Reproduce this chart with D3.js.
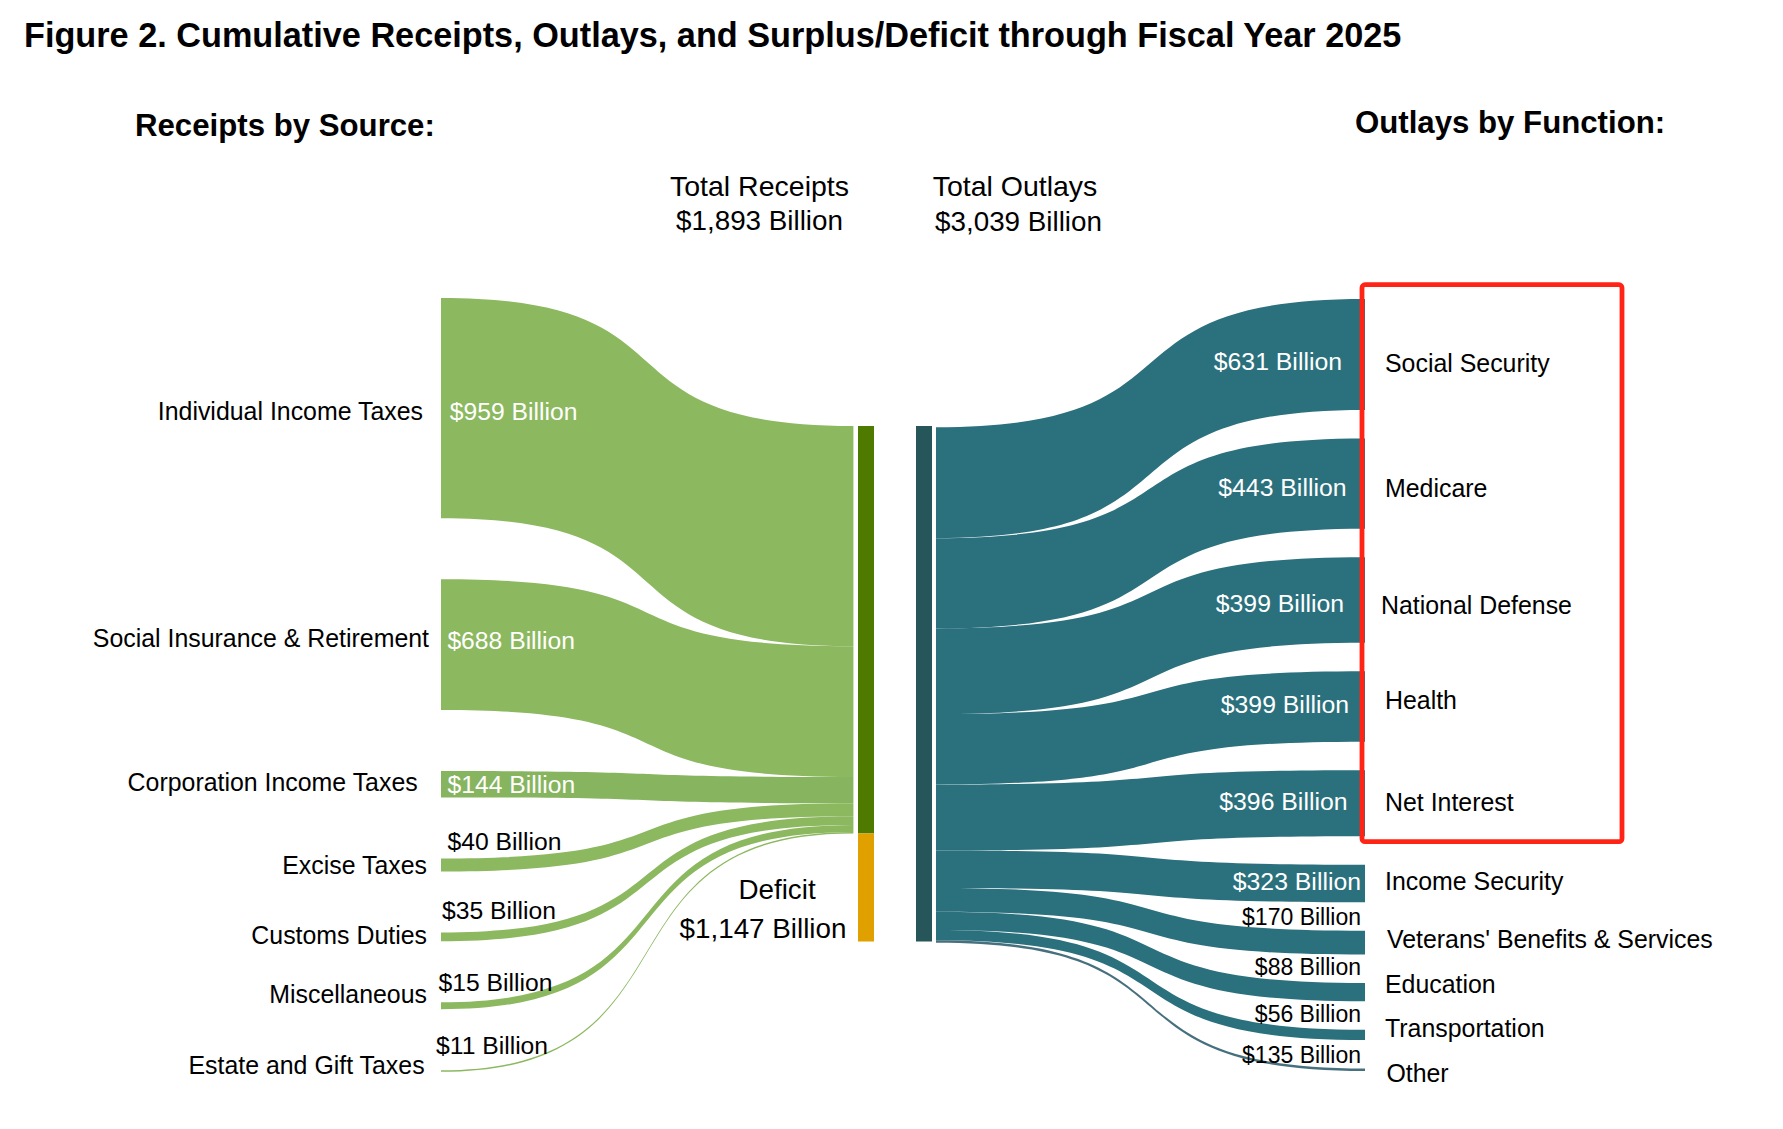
<!DOCTYPE html>
<html>
<head>
<meta charset="utf-8">
<script src="https://cdn.jsdelivr.net/npm/d3@7/dist/d3.min.js"></script>
<style>
html,body{margin:0;padding:0;background:#fff}
svg{display:block}
text{font-family:"Liberation Sans",Arial,sans-serif;fill:#000}
</style>
</head>
<body>
<svg id="chart" width="1783" height="1129" viewBox="0 0 1783 1129"></svg>
<script>
// ---- data ----
const chartTitle = "Figure 2. Cumulative Receipts, Outlays, and Surplus/Deficit through Fiscal Year 2025";
const receiptSources = ["Individual Income Taxes","Social Insurance & Retirement","Corporation Income Taxes","Excise Taxes","Customs Duties","Miscellaneous","Estate and Gift Taxes"];
const receiptPrinted = [959,688,144,40,35,15,11];
// band thickness as drawn in the picture (it does not follow the printed labels), in the same units as total outlays
const receiptBands = [1298,771,155,77,51,41,9];
const deficitBand = 637;
const outlayFunctions = ["Social Security","Medicare","National Defense","Health","Net Interest","Income Security","Veterans' Benefits & Services","Education","Transportation","Other"];
const outlayPrinted = [631,443,399,399,396,323,170,88,56,135];
const outlayBands = [654,532,505,415,389,221,141,107,60,15];
const totalReceipts = 1893, totalOutlays = 3039, deficitPrinted = 1147;

// ---- layout ----
const svg = d3.select("#chart");
const money = v => "$" + d3.format(",")(v) + " Billion";
const thick = d3.scaleLinear().domain([0, totalOutlays]).range([0, 515.5]);
const receiptGap = 360, outlayGap = 168;
const TOP_L = 298, TOP_R = 299, NODE_TOP = 426;
const colX = {srcL:441, srcR:853.4, gL:858, gR:874, tL:916, tR:932, outL:936, outR:1365};
const colors = {green:"#8cb860", greenAlt:"#87b45e", darkGreen:"#4f7a00", amber:"#e0a000", teal:"#2b707d", tealAlt:"#47707f", darkTeal:"#26565a", red:"#ff2415"};

// ribbon curve: horizontal tangents with control handles at 65% of the span
function ribbonCurve(context){
  const c = 0.65;
  let line, pt, x0, y0;
  return {
    areaStart(){ line = 0; },
    areaEnd(){ line = NaN; },
    lineStart(){ pt = 0; },
    lineEnd(){ if (line || (line !== 0 && pt === 1)) context.closePath(); line = 1 - line; },
    point(x, y){
      x = +x; y = +y;
      if (pt === 0){ pt = 1; if (line) context.lineTo(x, y); else context.moveTo(x, y); }
      else { context.bezierCurveTo(x0 + (x - x0) * c, y0, x - (x - x0) * c, y, x, y); }
      x0 = x; y0 = y;
    }
  };
}
const ribbon = d3.area().x(d=>d.x).y0(d=>d.y0).y1(d=>d.y1).curve(ribbonCurve);

function stacked(bands, gap, top, restart, restartOffset){
  let a = 0, b = 0;
  return bands.map(v=>{
    const o = {
      y0:top + thick(a), y1:top + thick(a + v),
      n0:restart + restartOffset + thick(b), n1:restart + restartOffset + thick(b + v)
    };
    a += v + gap; b += v;
    return o;
  });
}
const rs = stacked(receiptBands, receiptGap, TOP_L, NODE_TOP, 0);
const os = stacked(outlayBands, outlayGap, TOP_R, NODE_TOP, 1.2);

// ribbons
svg.append("g").selectAll("path").data(rs).join("path")
  .attr("fill", (d,i)=> i===2 ? colors.greenAlt : colors.green)
  .attr("d", d=>ribbon([{x:colX.srcL,y0:d.y0,y1:d.y1},{x:colX.srcR,y0:d.n0,y1:d.n1}]));
svg.append("g").selectAll("path").data(os).join("path")
  .attr("fill", (d,i)=> i===9 ? colors.tealAlt : colors.teal)
  .attr("d", d=>ribbon([{x:colX.outL,y0:d.n0,y1:d.n1},{x:colX.outR,y0:d.y0,y1:d.y1}]));

// nodes
const sumR = d3.sum(receiptBands);
svg.append("rect").attr("x",colX.gL).attr("y",NODE_TOP).attr("width",colX.gR-colX.gL).attr("height",thick(sumR)).attr("fill",colors.darkGreen);
svg.append("rect").attr("x",colX.gL).attr("y",NODE_TOP+thick(sumR)).attr("width",colX.gR-colX.gL).attr("height",thick(deficitBand)).attr("fill",colors.amber);
svg.append("rect").attr("x",colX.tL).attr("y",NODE_TOP).attr("width",colX.tR-colX.tL).attr("height",thick(d3.sum(outlayBands))).attr("fill",colors.darkTeal);

// highlight box
svg.append("rect").attr("x",1362).attr("y",284.7).attr("width",260).attr("height",557).attr("rx",3)
  .attr("fill","none").attr("stroke",colors.red).attr("stroke-width",4.8);

// text helper
function label(t,x,y,size,opt={}){
  return svg.append("text").attr("x",x).attr("y",y).attr("font-size",size)
    .attr("text-anchor",opt.anchor||"start")
    .attr("font-weight",opt.bold?"bold":"normal")
    .style("fill",opt.fill||"#000").text(t);
}
label(chartTitle,24,46.5,34.25,{bold:true});
label("Receipts by Source:",135,136,31.2,{bold:true});
label("Outlays by Function:",1355,133,31.2,{bold:true});
label("Total Receipts",759.5,196,28.5,{anchor:"middle"});
label(money(totalReceipts),759.5,230,27.8,{anchor:"middle"});
label("Total Outlays",1015,196,28.5,{anchor:"middle"});
label(money(totalOutlays),1018.5,230.5,27.8,{anchor:"middle"});
label("Deficit",777,899,27.8,{anchor:"middle"});
label(money(deficitPrinted),763,938.4,27.8,{anchor:"middle"});

// receipt labels
const srcNameAt = [[423,420],[429,647],[417.7,790.5],[427,874],[427,944],[427,1002.7],[424.6,1074.4]];
const srcValAt = [[449.8,420,1],[447.4,649,1],[447.5,792.5,1],[447.5,849.6,0],[442,918.5,0],[438.5,991,0],[436,1053.5,0]];
receiptSources.forEach((n,i)=>{
  label(n,srcNameAt[i][0],srcNameAt[i][1],24.9,{anchor:"end"});
  label(money(receiptPrinted[i]),srcValAt[i][0],srcValAt[i][1],24.7,{fill:srcValAt[i][2]?"#fff":"#000"});
});

// outlay labels
const outValAt = [[1342,369.6,1,24.8],[1346.5,496,1,24.8],[1344,612,1,24.8],[1349,713,1,24.8],[1347.5,810,1,24.8],[1361,889.5,1,24.8],[1361,924.7,0,23],[1361,974.7,0,23],[1361,1022,0,23],[1361,1062.5,0,23]];
const outNameAt = [[1385,372],[1385,497],[1381,613.7],[1385,708.8],[1385,811],[1385,889.5],[1387,947.5],[1385,992.5],[1385,1037.4],[1386.4,1082.4]];
outlayFunctions.forEach((n,i)=>{
  label(money(outlayPrinted[i]),outValAt[i][0],outValAt[i][1],outValAt[i][3],{anchor:"end",fill:outValAt[i][2]?"#fff":"#000"});
  label(n,outNameAt[i][0],outNameAt[i][1],24.9);
});
</script>
</body>
</html>
